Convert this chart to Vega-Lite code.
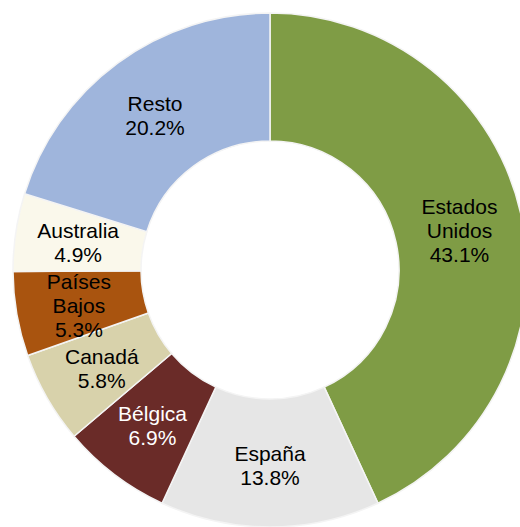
{
  "$schema": "https://vega.github.io/schema/vega-lite/v6.json",
  "width": 540,
  "height": 540,
  "padding": 0,
  "autosize": {"type": "none"},
  "background": "white",
  "view": {"stroke": null},
  "data": {
    "values": [
      {"pais": "Estados Unidos", "label": "Estados\nUnidos\n43.1%", "lineas": 3, "valor": 43.1, "orden": 1},
      {"pais": "España", "label": "España\n13.8%", "lineas": 2, "valor": 13.8, "orden": 2},
      {"pais": "Bélgica", "label": "Bélgica\n6.9%", "lineas": 2, "valor": 6.9, "orden": 3},
      {"pais": "Canadá", "label": "Canadá\n5.8%", "lineas": 2, "valor": 5.8, "orden": 4},
      {"pais": "Países Bajos", "label": "Países\nBajos\n5.3%", "lineas": 3, "valor": 5.3, "orden": 5},
      {"pais": "Australia", "label": "Australia\n4.9%", "lineas": 2, "valor": 4.9, "orden": 6},
      {"pais": "Resto", "label": "Resto\n20.2%", "lineas": 2, "valor": 20.2, "orden": 7}
    ]
  },
  "encoding": {
    "theta": {"field": "valor", "type": "quantitative", "stack": true},
    "order": {"field": "orden", "type": "quantitative"}
  },
  "layer": [
    {
      "mark": {"type": "arc", "innerRadius": 129, "outerRadius": 257, "stroke": "#f4f4f4", "strokeWidth": 1.5},
      "encoding": {
        "color": {
          "field": "pais",
          "type": "nominal",
          "scale": {
            "domain": ["Estados Unidos", "España", "Bélgica", "Canadá", "Países Bajos", "Australia", "Resto"],
            "range": ["#7F9C45", "#E6E6E6", "#6A2B28", "#D8D2AB", "#A9540F", "#FAF8EB", "#9FB5DC"]
          },
          "legend": null
        }
      }
    },
    {
      "mark": {"type": "text", "radius": 194, "dy": -20, "font": "Liberation Sans", "fontSize": 21, "lineBreak": "\n", "lineHeight": 24, "align": "center", "baseline": "middle"},
      "encoding": {
        "text": {"field": "label", "type": "nominal"},
        "opacity": {"condition": {"test": "datum.lineas === 3", "value": 1}, "value": 0},
        "color": {"condition": {"test": "datum.pais === 'Bélgica'", "value": "#ffffff"}, "value": "#000000"}
      }
    },
    {
      "mark": {"type": "text", "radius": 194, "dy": -9, "font": "Liberation Sans", "fontSize": 21, "lineBreak": "\n", "lineHeight": 24, "align": "center", "baseline": "middle"},
      "encoding": {
        "text": {"field": "label", "type": "nominal"},
        "opacity": {"condition": {"test": "datum.lineas === 2", "value": 1}, "value": 0},
        "color": {"condition": {"test": "datum.pais === 'Bélgica'", "value": "#ffffff"}, "value": "#000000"}
      }
    }
  ]
}
